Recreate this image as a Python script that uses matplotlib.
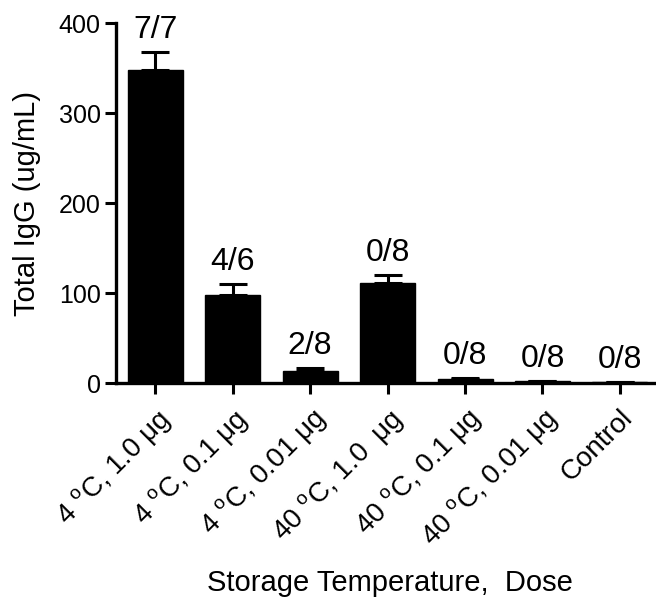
import matplotlib
matplotlib.use("Agg")
import matplotlib.pyplot as plt

plt.rcParams['font.family'] = ['Liberation Sans', 'DejaVu Sans']
plt.rcParams['mathtext.fontset'] = 'custom'
plt.rcParams['mathtext.rm'] = 'Liberation Sans'

categories = [
    r"4 $^\mathregular{o}$C, 1.0 μg",
    r"4 $^\mathregular{o}$C, 0.1 μg",
    r"4 $^\mathregular{o}$C, 0.01 μg",
    r"40 $^\mathregular{o}$C, 1.0  μg",
    r"40 $^\mathregular{o}$C, 0.1 μg",
    r"40 $^\mathregular{o}$C, 0.01 μg",
    "Control",
]
means = [348, 98, 13.5, 112, 5, 2.5, 1.5]
sem = [20, 12, 3.5, 9, 1, 0.5, 0.3]
responders = ["7/7", "4/6", "2/8", "0/8", "0/8", "0/8", "0/8"]

fig = plt.figure(figsize=(6.56, 6.01), dpi=100)
ax = fig.add_axes([0.177, 0.362, 0.823, 0.599])

x = list(range(len(categories)))
ax.bar(x, means, width=0.71, color='black', edgecolor='black', zorder=2)
ax.errorbar(x, means, yerr=[[0] * len(sem), sem], fmt='none', ecolor='black',
            elinewidth=2.2, capsize=10, capthick=2.2, zorder=3)

for xi, m, s, lab in zip(x, means, sem, responders):
    ax.annotate(lab, (xi, m + s), xytext=(0, 5), textcoords='offset points',
                ha='center', va='bottom', fontsize=23)

ax.set_ylim(0, 400)
ax.set_xlim(-0.503, 6.465)
ax.set_yticks([0, 100, 200, 300, 400])
ax.set_xticks(x)
ax.set_xticklabels(categories, rotation=45, ha='right', va='top',
                   rotation_mode='anchor', fontsize=20)
ax.tick_params(axis='y', labelsize=18, width=2.2, length=8, direction='out', pad=3)
ax.tick_params(axis='x', width=2.2, length=8, direction='out', pad=7)

for side in ['top', 'right']:
    ax.spines[side].set_visible(False)
for side in ['left', 'bottom']:
    ax.spines[side].set_linewidth(2.4)

ax.set_ylabel("Total IgG (ug/mL)", fontsize=21)
ax.yaxis.set_label_coords(-0.140, 0.5)
fig.text(0.595, 0.017, "Storage Temperature,  Dose", fontsize=21,
         ha='center', va='baseline')

fig.savefig("out.png", dpi=100)
